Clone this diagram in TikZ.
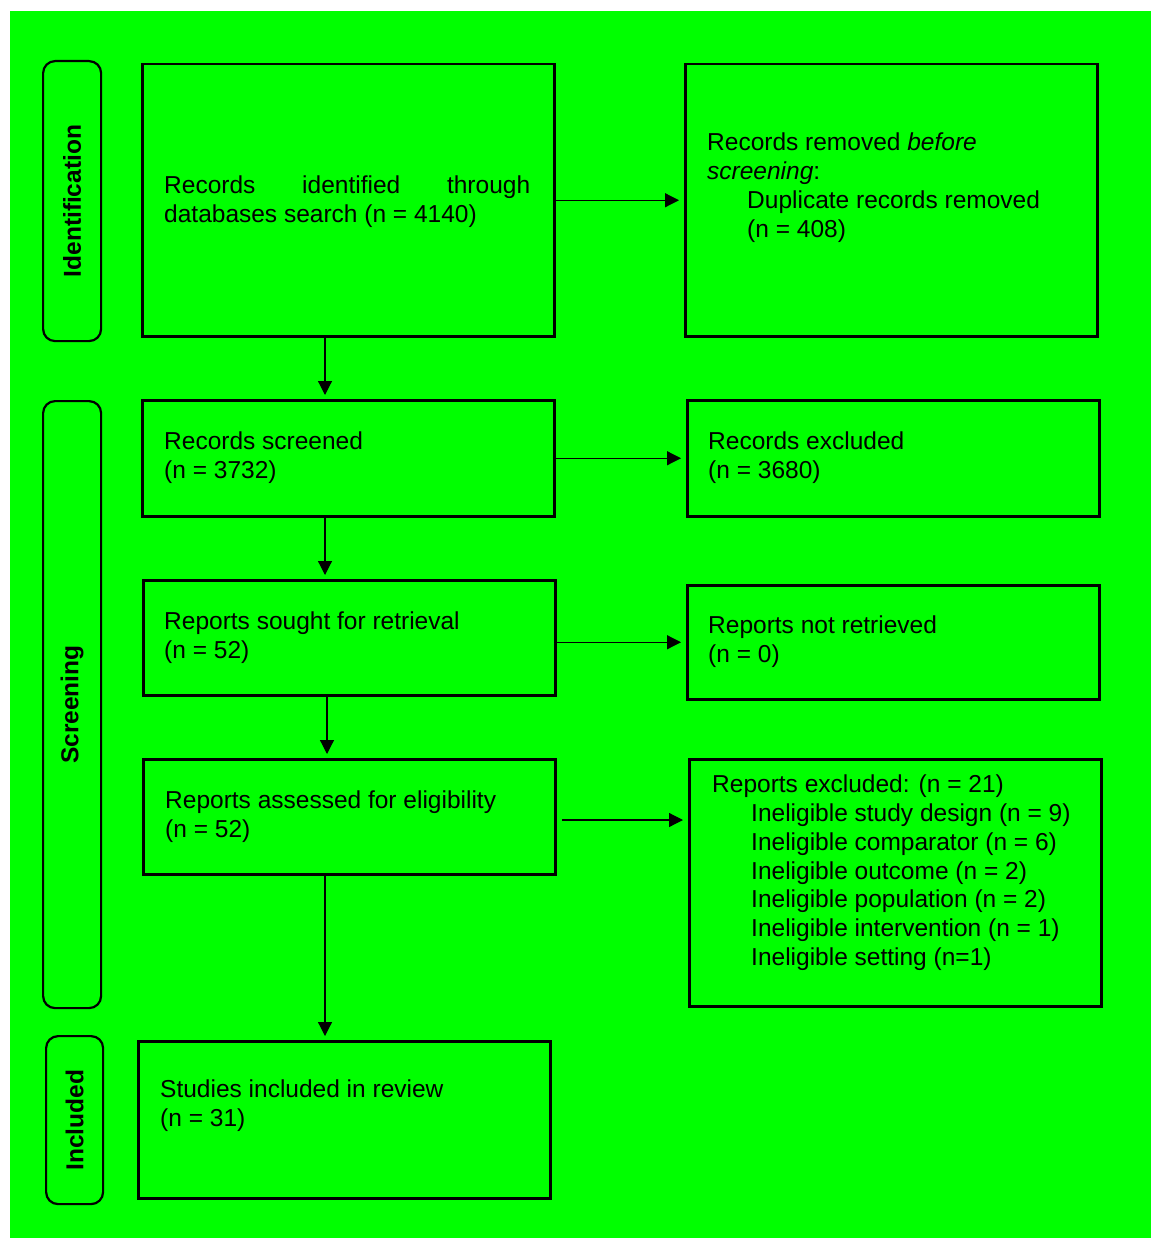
\documentclass[tikz,border=0pt]{standalone}
\usepackage{fontspec}
\setmainfont{Liberation Sans}
\usetikzlibrary{arrows.meta}
\definecolor{bg}{RGB}{0,255,0}
\begin{document}
\begin{tikzpicture}[x=1pt,y=-1pt,
  box/.style={draw=black, line width=2.5pt, rectangle, anchor=north west, inner sep=0pt, minimum width=412pt},
  lab/.style={draw=black, line width=2.2pt, rounded corners=12pt, rectangle, anchor=north west, inner sep=0pt},
  txt/.style={anchor=north west, inner sep=0pt, align=left, font=\fontsize{24.5}{28.7}\selectfont},
  labtxt/.style={rotate=90, inner sep=0pt, font=\fontsize{24.5}{28.7}\selectfont\bfseries},
  arr/.style={line width=1.2pt, -{Triangle[length=14pt,width=14pt]}, shorten >=5pt}]
\useasboundingbox (0,0) rectangle (1151,1238);
\fill[bg] (10,11) rectangle (1151,1238);

% phase labels
\node[lab, minimum width=58pt, minimum height=280pt] (L1) at (42,60) {};
\node[lab, minimum width=58pt, minimum height=607pt] (L2) at (42,400) {};
\node[lab, minimum width=57pt, minimum height=168pt] (L3) at (45,1035) {};
\node[labtxt] (L1t) at (L1.center) {Identification};
\node[labtxt] (L2t) at (L2.center) {Screening};
\node[labtxt] (L3t) at (L3.center) {Included};

% boxes
\node[box, minimum height=272pt] (b1) at (141,63) {};
\node[box, minimum height=272pt] (rm) at (684,63) {};
\node[box, minimum height=116pt] (scr) at (141,399) {};
\node[box, minimum height=116pt] (exc) at (686,399) {};
\node[box, minimum height=115pt] (sou) at (142,579) {};
\node[box, minimum height=114pt] (nr) at (686,584) {};
\node[box, minimum height=115pt] (ass) at (142,758) {};
\node[box, minimum height=247pt] (rex) at (688,758) {};
\node[box, minimum height=157pt] (inc) at (137,1040) {};

% texts
\node[txt] (t1) at (164,176) {\makebox[366pt][s]{Records identified through}\\databases search (n = 4140)};
\node[txt] (t2) at (707,133) {Records removed \textit{before}\\\textit{screening}:\\\hspace*{40pt}Duplicate records removed\\\hspace*{40pt}(n = 408)};
\node[txt] (t3) at (164,432) {Records screened\\(n = 3732)};
\node[txt] (t4) at (708,432) {Records excluded\\(n = 3680)};
\node[txt] (t5) at (164,612) {Reports sought for retrieval\\(n = 52)};
\node[txt] (t6) at (708,616) {Reports not retrieved\\(n = 0)};
\node[txt] (t7) at (165,791) {Reports assessed for eligibility\\(n = 52)};
\node[txt] (t8) at (712,775) {Reports excluded: (n = 21)\\
\hspace*{39pt}Ineligible study design (n = 9)\\
\hspace*{39pt}Ineligible comparator (n = 6)\\
\hspace*{39pt}Ineligible outcome (n = 2)\\
\hspace*{39pt}Ineligible population (n = 2)\\
\hspace*{39pt}Ineligible intervention (n = 1)\\
\hspace*{39pt}Ineligible setting (n=1)};
\node[txt] (t9) at (160,1080) {Studies included in review\\(n = 31)};

% connectors
\coordinate (xa) at (325,0);
\coordinate (xb) at (327,0);
\coordinate (as) at (562,820);
\draw[arr, shorten >=4pt] (b1.south -| xa) -- (scr.north -| xa);
\draw[arr, shorten >=4pt] (scr.south -| xa) -- (sou.north -| xa);
\draw[arr, shorten >=4pt] (sou.south -| xb) -- (ass.north -| xb);
\draw[arr, shorten >=4pt] (ass.south -| xa) -- (inc.north -| xa);
\draw[arr] (b1.east) -- (rm.west);
\draw[arr] (scr.east) -- (exc.west);
\draw[arr] (sou.east |- nr.west) -- (nr.west);
\draw[arr] (as) -- (as -| rex.west);
\end{tikzpicture}
\end{document}
